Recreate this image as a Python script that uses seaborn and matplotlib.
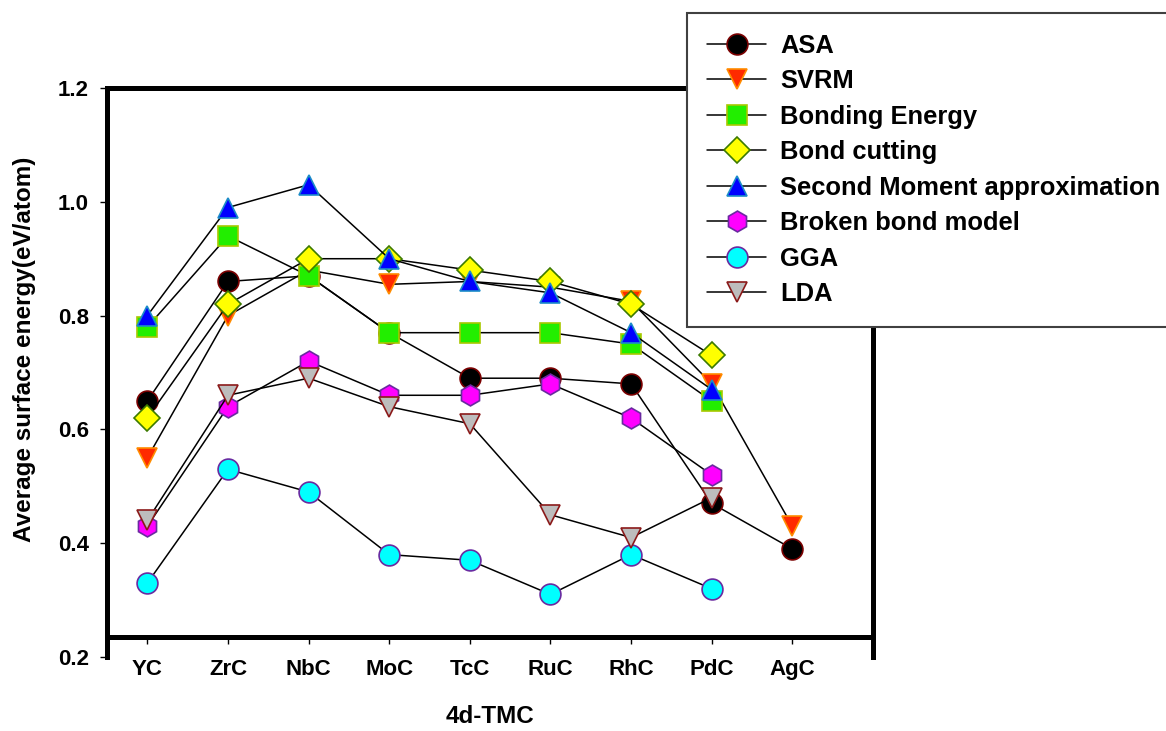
import numpy as np
import seaborn as sns
import matplotlib.pyplot as plt

categories = ["YC", "ZrC", "NbC", "MoC", "TcC", "RuC", "RhC", "PdC", "AgC"]

asa = [0.65, 0.86, 0.87, 0.77, 0.69, 0.69, 0.68, 0.47, 0.39]
svrm = [0.55, 0.80, 0.88, 0.855, 0.86, 0.85, 0.825, 0.68, 0.43]
bonding_energy = [0.78, 0.94, 0.87, 0.77, 0.77, 0.77, 0.75, 0.65]
bond_cutting = [0.62, 0.82, 0.90, 0.90, 0.88, 0.86, 0.82, 0.73]
second_moment = [0.80, 0.99, 1.03, 0.90, 0.86, 0.84, 0.77, 0.67]
broken_bond = [0.43, 0.64, 0.72, 0.66, 0.66, 0.68, 0.62, 0.52]
gga = [0.33, 0.53, 0.49, 0.38, 0.37, 0.31, 0.38, 0.32]
lda = [0.44, 0.66, 0.69, 0.64, 0.61, 0.45, 0.41, 0.48]

series = [
    ("ASA", asa, "o", "#000000", "#7a0000", 15),
    ("SVRM", svrm, "v", "#ff2a00", "#ff8c00", 15),
    ("Bonding Energy", bonding_energy, "s", "#22ee00", "#a8c800", 14),
    ("Bond cutting", bond_cutting, "D", "#ffff00", "#3c7a00", 13),
    ("Second Moment approximation", second_moment, "^", "#0000ff", "#1c8cc8", 15),
    ("Broken bond model", broken_bond, "h", "#ff00ff", "#6a2aa0", 15),
    ("GGA", gga, "o", "#00ffff", "#6a2aa0", 15),
    ("LDA", lda, "v", "#bdbdbd", "#8b1a1a", 15),
]

sns.set_style("ticks")
plt.rcParams["font.family"] = ["Liberation Sans", "DejaVu Sans"]
plt.rcParams["font.weight"] = "bold"
plt.rcParams["text.color"] = "black"
plt.rcParams["axes.labelcolor"] = "black"

fig = plt.figure(figsize=(11.66, 7.31), dpi=100)
ax = fig.add_axes([0.0918, 0.1012, 0.6569, 0.7784])

for name, vals, mk, fc, ec, ms in series:
    sns.lineplot(x=np.arange(len(vals)), y=vals, ax=ax, color="black", linewidth=1.1,
                 marker=mk, markersize=ms, markerfacecolor=fc, markeredgecolor=ec,
                 markeredgewidth=1.2, label=name)

ax.set_xlim(-0.5, 9.0)
ax.set_ylim(0.2, 1.2)
ax.set_xticks(np.arange(len(categories)))
ax.set_xticklabels(categories)
ax.set_yticks([0.2, 0.4, 0.6, 0.8, 1.0, 1.2])
ax.set_yticklabels(["0.2", "0.4", "0.6", "0.8", "1.0", "1.2"])

for s in ["left", "right", "top", "bottom"]:
    ax.spines[s].set_linewidth(3.6)
    ax.spines[s].set_color("black")
ax.spines["bottom"].set_position(("data", 0.235))

ax.tick_params(axis="both", direction="out", width=1, length=5, labelsize=16,
               colors="black", labelcolor="black")
ax.tick_params(axis="y", pad=8)
ax.tick_params(axis="x", pad=11)

ax.set_xlabel("4d-TMC", fontsize=17.5, fontweight="bold", color="black")
ax.set_ylabel("Average surface energy(eV/atom)", fontsize=17.5, fontweight="bold", color="black")
ax.xaxis.set_label_coords(0.5, -0.085)
ax.yaxis.set_label_coords(-0.093, 0.54)

leg = ax.legend(loc="upper left", bbox_to_anchor=(0.589, 0.982), bbox_transform=fig.transFigure,
                fancybox=False, framealpha=1, edgecolor="#404040", prop={"size": 18.4, "weight": "bold"},
                handlelength=2.3, handletextpad=0.55, labelspacing=0.45, borderpad=0.8, borderaxespad=0)
leg.get_frame().set_linewidth(1.5)
for t in leg.get_texts():
    t.set_color("black")

fig.savefig("out.png", dpi=100)
